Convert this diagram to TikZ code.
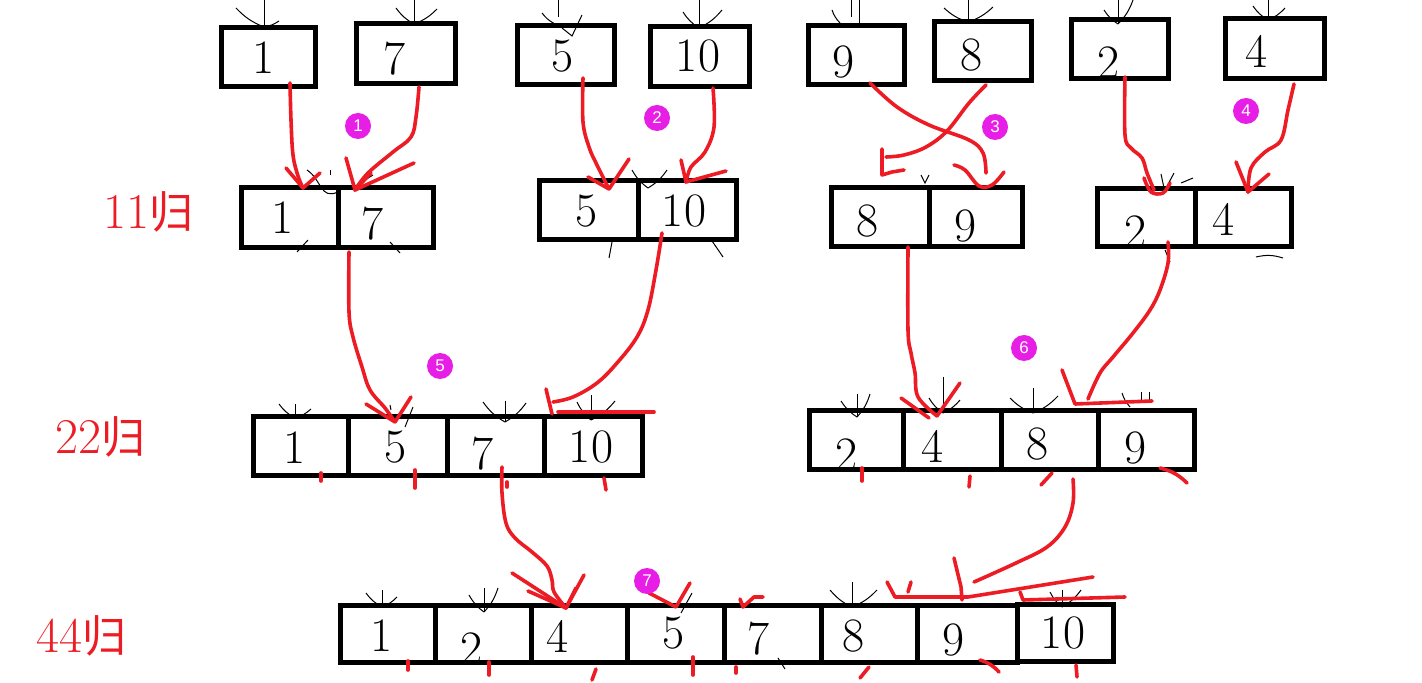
\documentclass[tikz,border=0pt]{standalone}
\usepackage{fontspec}
\newfontfamily\cjk{Noto Sans CJK SC}
\newfontfamily\circfont{Liberation Sans}
\usetikzlibrary{calc}
\definecolor{pred}{RGB}{237,28,36}
\definecolor{pmag}{RGB}{230,30,230}
\tikzset{
 cellst/.style={draw=black, line width=2.5pt, inner sep=0pt, rectangle},
 num/.style={inner sep=0pt, font=\fontsize{24}{24}\selectfont},
 rl/.style={draw=pred, line width=1.8pt, line cap=round, line join=round},
 scrib/.style={draw=black, line width=0.5pt},
 badge/.style={circle, fill=pmag, text=white, inner sep=0pt, minimum size=13pt, font=\circfont\fontsize{8.5}{8.5}\selectfont},
 lvl/.style={text=pred, inner sep=0pt, anchor=base west, font=\fontsize{25}{25}\selectfont},
}
\newcommand\cellbox[5]{%
  \pgfmathsetmacro\cbx{(#2+#4)/2}%
  \pgfmathsetmacro\cby{(#3+#5)/2}%
  \pgfmathsetmacro\cbw{(#4-#2-5)*0.5}%
  \pgfmathsetmacro\cbh{(#5-#3-5)*0.5}%
  \node[cellst, minimum width=\cbw pt, minimum height=\cbh pt] (#1) at (\cbx,\cby) {};}
\newcommand\wh[7]{%
  \draw[scrib] (#1,#3) -- (#1,#2);
  \draw[scrib] (#4,#5) to[bend right=12] (#1,#2);
  \draw[scrib] (#6,#7) to[bend left=12] (#1,#2);}
\begin{document}
\begin{tikzpicture}[x=0.5pt,y=-0.5pt]
\useasboundingbox[fill=white] (0,0) rectangle (1422,683);

% ---------- boxes ----------
\cellbox{t1}{219}{25}{318}{89}
\cellbox{t7}{354}{21}{458}{86}
\cellbox{t5}{515}{23}{617}{87}
\cellbox{t10}{648}{24}{752}{89}
\cellbox{t9}{806}{23}{907}{87}
\cellbox{t8}{932}{19}{1034}{83}
\cellbox{t2}{1069}{17}{1171}{81}
\cellbox{t4}{1223}{16}{1327}{81}

\cellbox{a1}{239}{185}{340.5}{250}
\cellbox{a7}{335.5}{185}{436}{250}
\cellbox{b5}{537}{178}{640.5}{242}
\cellbox{b10}{635.5}{178}{739}{242}
\cellbox{c8}{829}{185}{931.5}{249}
\cellbox{c9}{926.5}{185}{1025}{249}
\cellbox{d2}{1095}{186}{1197.5}{249}
\cellbox{d4}{1192.5}{186}{1294}{249}

\cellbox{e1}{251}{414}{350.5}{478}
\cellbox{e5}{345.5}{414}{449.5}{478}
\cellbox{e7}{444.5}{414}{546.5}{478}
\cellbox{e10}{541.5}{414}{645}{478}
\cellbox{f2}{807}{408}{905.5}{472}
\cellbox{f4}{900.5}{408}{1003.5}{472}
\cellbox{f8}{998.5}{408}{1100.5}{472}
\cellbox{f9}{1095.5}{408}{1197}{472}

\cellbox{g1}{338}{603}{437.5}{665}
\cellbox{g2}{432.5}{603}{533.5}{665}
\cellbox{g4}{528.5}{603}{630}{665}
\cellbox{g5}{625}{603}{726.5}{665}
\cellbox{g7}{721.5}{603}{823.5}{665}
\cellbox{g8}{818.5}{603}{919.5}{665}
\cellbox{g9}{914.5}{603}{1019.5}{665}
\cellbox{g10}{1014.5}{602}{1116}{664}

% ---------- numbers ----------
\node[num] (nt1) at (264,58) {1};
\node[num] (nt7) at (395,59) {7};
\node[num] (nt5) at (563,56) {5};
\node[num] (nt10) at (698,56.5) {10};
\node[num] (nt9) at (844,62.5) {9};
\node[num] (nt8) at (971,55) {8};
\node[num] (nt2) at (1108,63) {2};
\node[num] (nt4) at (1256,51) {4};

\node[num] (na1) at (283,217.5) {1};
\node[num] (na7) at (373,223.5) {7};
\node[num] (nb5) at (587,211) {5};
\node[num] (nb10) at (684,211) {10};
\node[num] (nc8) at (867,221) {8};
\node[num] (nc9) at (965,226) {9};
\node[num] (nd2) at (1135,232) {2};
\node[num] (nd4) at (1223,219) {4};

\node[num] (ne1) at (295,447.5) {1};
\node[num] (ne5) at (396,447.5) {5};
\node[num] (ne7) at (483,453.5) {7};
\node[num] (ne10) at (591,447.5) {10};
\node[num] (nf2) at (847,455) {2};
\node[num] (nf4) at (932,446) {4};
\node[num] (nf8) at (1037,444.5) {8};
\node[num] (nf9) at (1135,448.5) {9};

\node[num] (ng1) at (382,636) {1};
\node[num] (ng2) at (472,649) {2};
\node[num] (ng4) at (558,636.5) {4};
\node[num] (ng5) at (674,633.5) {5};
\node[num] (ng7) at (759,639) {7};
\node[num] (ng8) at (854,636.5) {8};
\node[num] (ng9) at (953,640.5) {9};
\node[num] (ng10) at (1063,633.5) {10};

% ---------- level labels ----------
\node[lvl] (L11) at (103,229) {11{\cjk\fontsize{22}{22}\selectfont 归}};
\node[lvl] (L22) at (55,453) {22{\cjk\fontsize{22}{22}\selectfont 归}};
\node[lvl] (L44) at (36,652) {44{\cjk\fontsize{22}{22}\selectfont 归}};

% ---------- black scribbles ----------
\wh{264}{27}{0}{236}{8}{279}{21}
\wh{414}{24}{0}{396}{8}{437}{9}
\draw[scrib] (558,0) -- (558,17);
\draw[scrib] (542,13) to[bend right=12] (555,24);
\draw[scrib] (562,28) -- (572,36) -- (582,15);
\wh{699}{28}{0}{683}{12}{722}{10}
\draw[scrib] (851,0) -- (851,17);
\draw[scrib] (859,0) -- (859,23);
\draw[scrib] (832,10) to[bend right=12] (840,23);
\wh{968}{22}{0}{944}{8}{993}{7}
\wh{1118}{24}{0}{1104}{10}{1133}{0}
\wh{1268}{20}{0}{1253}{6}{1285}{8}

\draw[scrib] (307,170) .. controls (322,180) and (320,200) .. (338,192);
\draw[scrib] (330,170) -- (330,175);
\draw[scrib] (357,185) -- (373,175);
\draw[scrib] (308,240) -- (297,252);
\draw[scrib] (390,242) -- (400,253);
\draw[scrib] (632,170) to[bend right=12] (648,188);
\draw[scrib] (667,170) to[bend left=12] (648,188);
\draw[scrib] (612,242) -- (609,258);
\draw[scrib] (710,238) -- (723,257);
\draw[scrib] (921,175) -- (925,183) -- (929,175);
\draw[scrib] (1161,174) -- (1164,188);
\draw[scrib] (1174,173) -- (1166,188);
\draw[scrib] (1181,183) -- (1193,178);
\draw[scrib] (1165,250) -- (1170,262);
\draw[scrib] (1256,257) to[bend left=15] (1283,258);

\wh{295}{418}{404}{279}{404}{311}{409}
\draw[scrib] (390,405) -- (391,410);
\draw[scrib] (413,407) -- (405,427);
\wh{505}{422}{401}{483}{402}{526}{403}
\wh{591}{420}{395}{577}{402}{615}{401}
\wh{857}{417}{394}{841}{401}{870}{394}
\wh{943}{413}{377}{929}{398}{960}{400}
\wh{1033}{413}{388}{1010}{398}{1058}{396}
\draw[scrib] (1141,392) -- (1141,403);
\draw[scrib] (1149,392) -- (1149,403);
\draw[scrib] (1122,393) to[bend right=12] (1130,407);

\wh{382}{607}{590}{366}{593}{397}{597}
\wh{484}{612}{588}{469}{595}{498}{588}
\draw[scrib] (681,613) -- (692,593);
\wh{852}{607}{582}{830}{590}{877}{590}
\wh{1062}{607}{590}{1050}{592}{1081}{590}
\draw[scrib] (778,658) -- (785,669);

% ---------- red connectors ----------
\coordinate (p1s) at ($(t1.south)+(21.5,-6)$);
\coordinate (p1e) at ($(a1.north)+(13.25,3)$);
\draw[rl] plot[smooth, tension=0.6] coordinates {(p1s) (291,120) (293,155) (298,176) (p1e)};
\draw[rl] (286,168) -- (p1e) -- (320,173);

\coordinate (p2s) at ($(t7.south)+(13,1)$);
\coordinate (p2e) at ($(a7.north)+(-30.75,5)$);
\draw[rl] plot[smooth, tension=0.6] coordinates {(p2s) (416,117) (411,137) (393,152) (368,173) (p2e)};
\draw[rl] (346,158) -- (p2e) -- (414,163);
\draw[rl] (371,173) -- (p2e);

\coordinate (p3s) at ($(t5.south)+(17,-9)$);
\coordinate (p3e) at ($(b5.north)+(20.25,11)$);
\draw[rl] plot[smooth, tension=0.6] coordinates {(p3s) (583,122) (589,147) (596,163) (p3e)};
\draw[rl] (588,177) -- (p3e) -- (629,159);

\coordinate (p4s) at ($(t10.south)+(13,-1)$);
\coordinate (p4e) at ($(b10.north)+(-1.25,4)$);
\draw[rl] plot[smooth, tension=0.6] coordinates {(p4s) (714,127) (705,152) (691,167) (p4e)};
\draw[rl] (681,160) -- (p4e) -- (726,171);

\coordinate (p5s) at ($(t9.south)+(13.5,-4)$);
\coordinate (p5e) at ($(c9.north)+(10.25,-12)$);
\draw[rl] plot[smooth, tension=0.6] coordinates {(p5s) (897,107) (929,125) (969,140) (983,153) (p5e)};
\draw[rl] plot[smooth, tension=0.6] coordinates {(954,165) (965,170) (979,186) (992,185) (1004,172)};

\coordinate (p6s) at ($(t8.south)+(3,2)$);
\coordinate (p6e) at ($(c8.north)+(5.75,-28)$);
\draw[rl] plot[smooth, tension=0.6] coordinates {(p6s) (969,103) (947,131) (926,147) (904,155) (p6e)};
\draw[rl] (882,149) -- (882,175) -- (892,172) -- (904,170);

\coordinate (p7s) at ($(t2.south)+(5,-4)$);
\coordinate (p7e) at ($(d2.north)+(7.75,4)$);
\draw[rl] plot[smooth, tension=0.6] coordinates {(p7s) (1125,135) (1131,148) (1142,158) (1147,173) (p7e)};
\draw[rl] plot[smooth, tension=0.6] coordinates {(1144,178) (1151,192) (1163,193) (1170,183)};

\coordinate (p8s) at ($(t4.south)+(19,3)$);
\coordinate (p8e) at ($(d4.north)+(4.75,6)$);
\draw[rl] plot[smooth, tension=0.6] coordinates {(p8s) (1288,110) (1281,140) (1265,152) (1251,168) (p8e)};
\draw[rl] (1236,162) -- (p8e) -- (1269,174);

\coordinate (p9s) at ($(a7.south)+(-36.75,2)$);
\coordinate (p9e) at ($(e5.north)+(-2.5,8)$);
\draw[rl] plot[smooth, tension=0.6] coordinates {(p9s) (349,312) (353,337) (362,367) (370,390) (385,408) (p9e)};
\draw[rl] (366,404) -- (p9e) -- (411,397);

\coordinate (p10s) at ($(b10.south)+(-25.25,-9)$);
\coordinate (p10e) at ($(e10.north)+(-40.25,-12)$);
\draw[rl] plot[smooth, tension=0.6] coordinates {(p10s) (656,270) (648,310) (637,337) (617,363) (597,383) (573,397) (p10e)};
\draw[rl] (546,389) -- (552,414);
\draw[rl] (558,412) -- (654,412);

\coordinate (p11s) at ($(c8.south)+(27.75,-2)$);
\coordinate (p11e) at ($(f4.north)+(-15,8)$);
\draw[rl] plot[smooth, tension=0.6] coordinates {(p11s) (908,330) (911,353) (915,373) (918,397) (p11e)};
\draw[rl] (901,398) -- (929,418);
\draw[rl] (p11e) -- (960,383);

\coordinate (p12s) at ($(d2.south)+(21.75,-7)$);
\coordinate (p12e) at ($(f8.north)+(38.5,-9)$);
\draw[rl] plot[smooth, tension=0.6] coordinates {(p12s) (1168,263) (1160,290) (1150,310) (1133,333) (1113,357) (1100,373) (p12e)};
\draw[rl] (1062,370) -- (1075,404) -- (1152,401);

\coordinate (p13s) at ($(e7.south)+(6.5,-11)$);
\coordinate (p13e) at ($(g4.north)+(-13.25,5)$);
\draw[rl] plot[smooth, tension=0.6] coordinates {(p13s) (502,493) (506,523) (515,538) (532,552) (547,566) (552,580) (554,592) (p13e)};
\draw[rl] (512,573) -- (p13e);
\draw[rl] (528,591) -- (p13e);
\draw[rl] (584,575) -- (p13e);
\draw[rl] (576,588) -- (p13e);

\coordinate (p14s) at ($(f8.south)+(23.5,7)$);
\coordinate (p14e) at ($(g9.north)+(7,-21)$);
\draw[rl] plot[smooth, tension=0.6] coordinates {(p14s) (1073,503) (1065,527) (1047,547) (1016,563) (p14e)};
\draw[rl] (954,558) -- (961,587) -- (962,600);
\draw[rl] (887,582) -- (895,597) -- (968,597) -- (1093,577);
\draw[rl] (911,582) -- (908,592);
\draw[rl] (1020,592) -- (1023,600) -- (1125,597);

\coordinate (p15e) at ($(g5.north)+(0.25,4)$);
\draw[rl] (649,593) -- (p15e) -- (690,583);
\coordinate (p16e) at ($(g7.north)+(-29.5,4)$);
\draw[rl] (740,599) -- (p16e) -- (754,597) -- (763,597);

% ---------- red ticks ----------
\draw[rl] (321,473) -- (321,481);
\draw[rl] (415,470) -- (415,488);
\draw[rl] (507,482) -- (507,487);
\draw[rl] (604,478) -- (606,490);
\draw[rl] (862,468) -- (862,481);
\draw[rl] (970,476) -- (969,487);
\draw[rl] (1052,473) -- (1041,485);
\draw[rl] (1160,468) to[bend left=15] (1187,483);
\draw[rl] (408,661) -- (408,670);
\draw[rl] (489,662) -- (489,675);
\draw[rl] (596,669) -- (592,680);
\draw[rl] (693,657) -- (693,675);
\draw[rl] (736,667) -- (736,673);
\draw[rl] (869,667) -- (860,678);
\draw[rl] (980,660) to[bend left=15] (999,672);
\draw[rl] (1076,665) -- (1077,677);

% ---------- badges ----------
\node[badge] (b1) at (358,126) {1};
\node[badge] (b2) at (657,118) {2};
\node[badge] (b3) at (995,127) {3};
\node[badge] (b4) at (1246,111) {4};
\node[badge] (b5) at (440,366) {5};
\node[badge] (b6) at (1024,348) {6};
\node[badge] (b7) at (647,581) {7};
\end{tikzpicture}
\end{document}
